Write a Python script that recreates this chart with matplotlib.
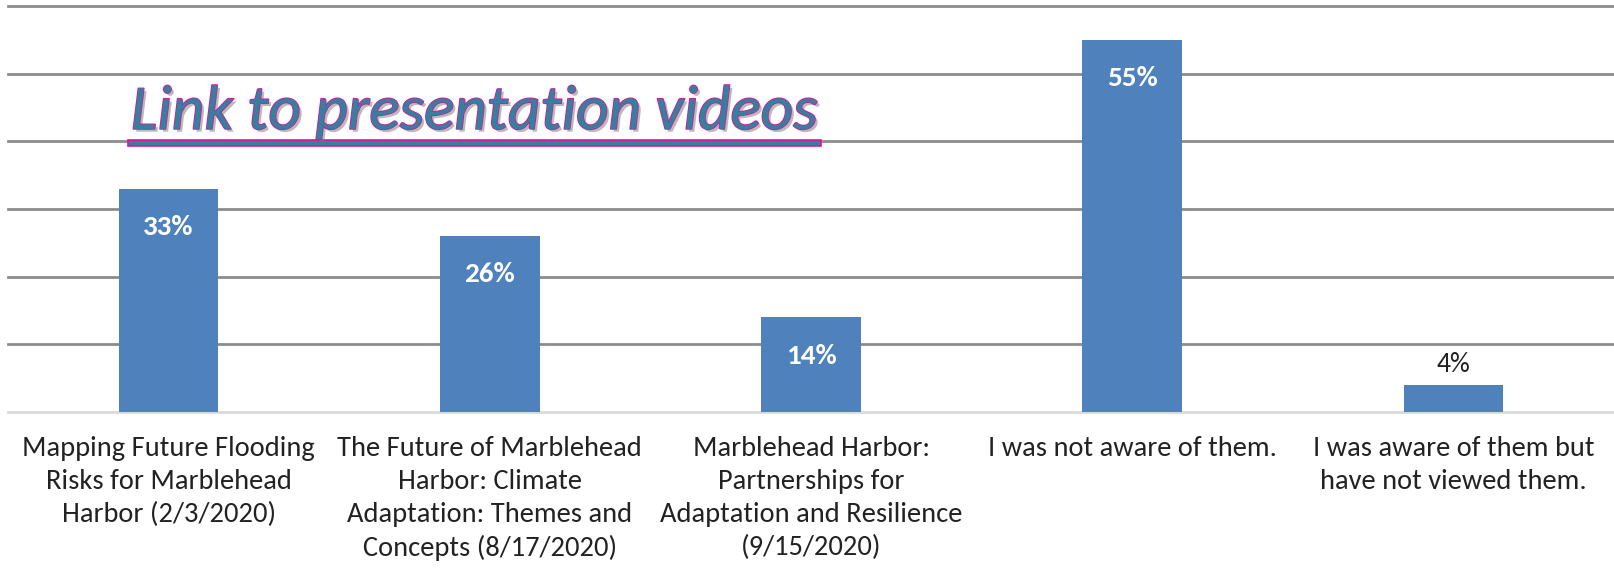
import matplotlib
matplotlib.use("Agg")
import matplotlib.pyplot as plt
import matplotlib.patheffects as pe
from matplotlib.lines import Line2D

categories = [
    "Mapping Future Flooding\nRisks for Marblehead\nHarbor (2/3/2020)",
    "The Future of Marblehead\nHarbor: Climate\nAdaptation: Themes and\nConcepts (8/17/2020)",
    "Marblehead Harbor:\nPartnerships for\nAdaptation and Resilience\n(9/15/2020)",
    "I was not aware of them.",
    "I was aware of them but\nhave not viewed them.",
]
values = [33, 26, 14, 55, 4]
link_text = "Link to presentation videos"

plt.rcParams["font.family"] = ["Carlito", "DejaVu Sans"]

fig = plt.figure(figsize=(16.14, 5.86), dpi=100)
ax = fig.add_axes([0.005, 0.297, 0.995, 0.693])

x = range(len(values))
ax.bar(x, values, width=0.31, color="#4F81BD", zorder=3)
ax.set_xlim(-0.5, len(values) - 0.5)
ax.set_ylim(0, 60)
ax.set_yticks(range(10, 61, 10))
ax.yaxis.grid(True, color="#8c8c8c", linewidth=2, zorder=0)
for gl in ax.get_ygridlines():
    gl.set_clip_on(False)
ax.tick_params(axis="y", left=False, labelleft=False)
ax.set_xticks(list(x))
ax.set_xticklabels(categories, fontsize=20.5, color="#222222", linespacing=1.4)
ax.tick_params(axis="x", length=0, pad=17)
for s in ["top", "left", "right"]:
    ax.spines[s].set_visible(False)
ax.spines["bottom"].set_color("#d9d9d9")
ax.spines["bottom"].set_linewidth(2)

for i, v in enumerate(values):
    if v >= 10:
        ax.annotate(f"{v}%", (i, v), xytext=(0, -19), textcoords="offset points",
                    ha="center", va="top", color="white", fontsize=21, fontweight="bold")
    else:
        ax.annotate(f"{v}%", (i, v), xytext=(0, 6), textcoords="offset points",
                    ha="center", va="bottom", color="#222222", fontsize=20)

effects = [pe.SimplePatchShadow(offset=(2, -2), shadow_rgbFace="#777777", alpha=0.5),
           pe.Stroke(linewidth=1.2, foreground="#E0139B"), pe.Normal()]
t = fig.text(0.081, 0.78, link_text, fontsize=45.5, style="italic", color="#33809F",
             ha="left", va="baseline", path_effects=effects)

# underline drawn under the link text
fig.canvas.draw()
bb = t.get_window_extent().transformed(fig.transFigure.inverted())
uy = 0.78 - 0.024
line_fx = [pe.SimplePatchShadow(offset=(2, -2), shadow_rgbFace="#777777", alpha=0.5),
           pe.Stroke(linewidth=5.5, foreground="#E0139B"), pe.Normal()]
fig.add_artist(Line2D([bb.x0, bb.x1], [uy, uy], color="#33809F", linewidth=3,
                      path_effects=line_fx))

fig.savefig("out.png", dpi=100)
